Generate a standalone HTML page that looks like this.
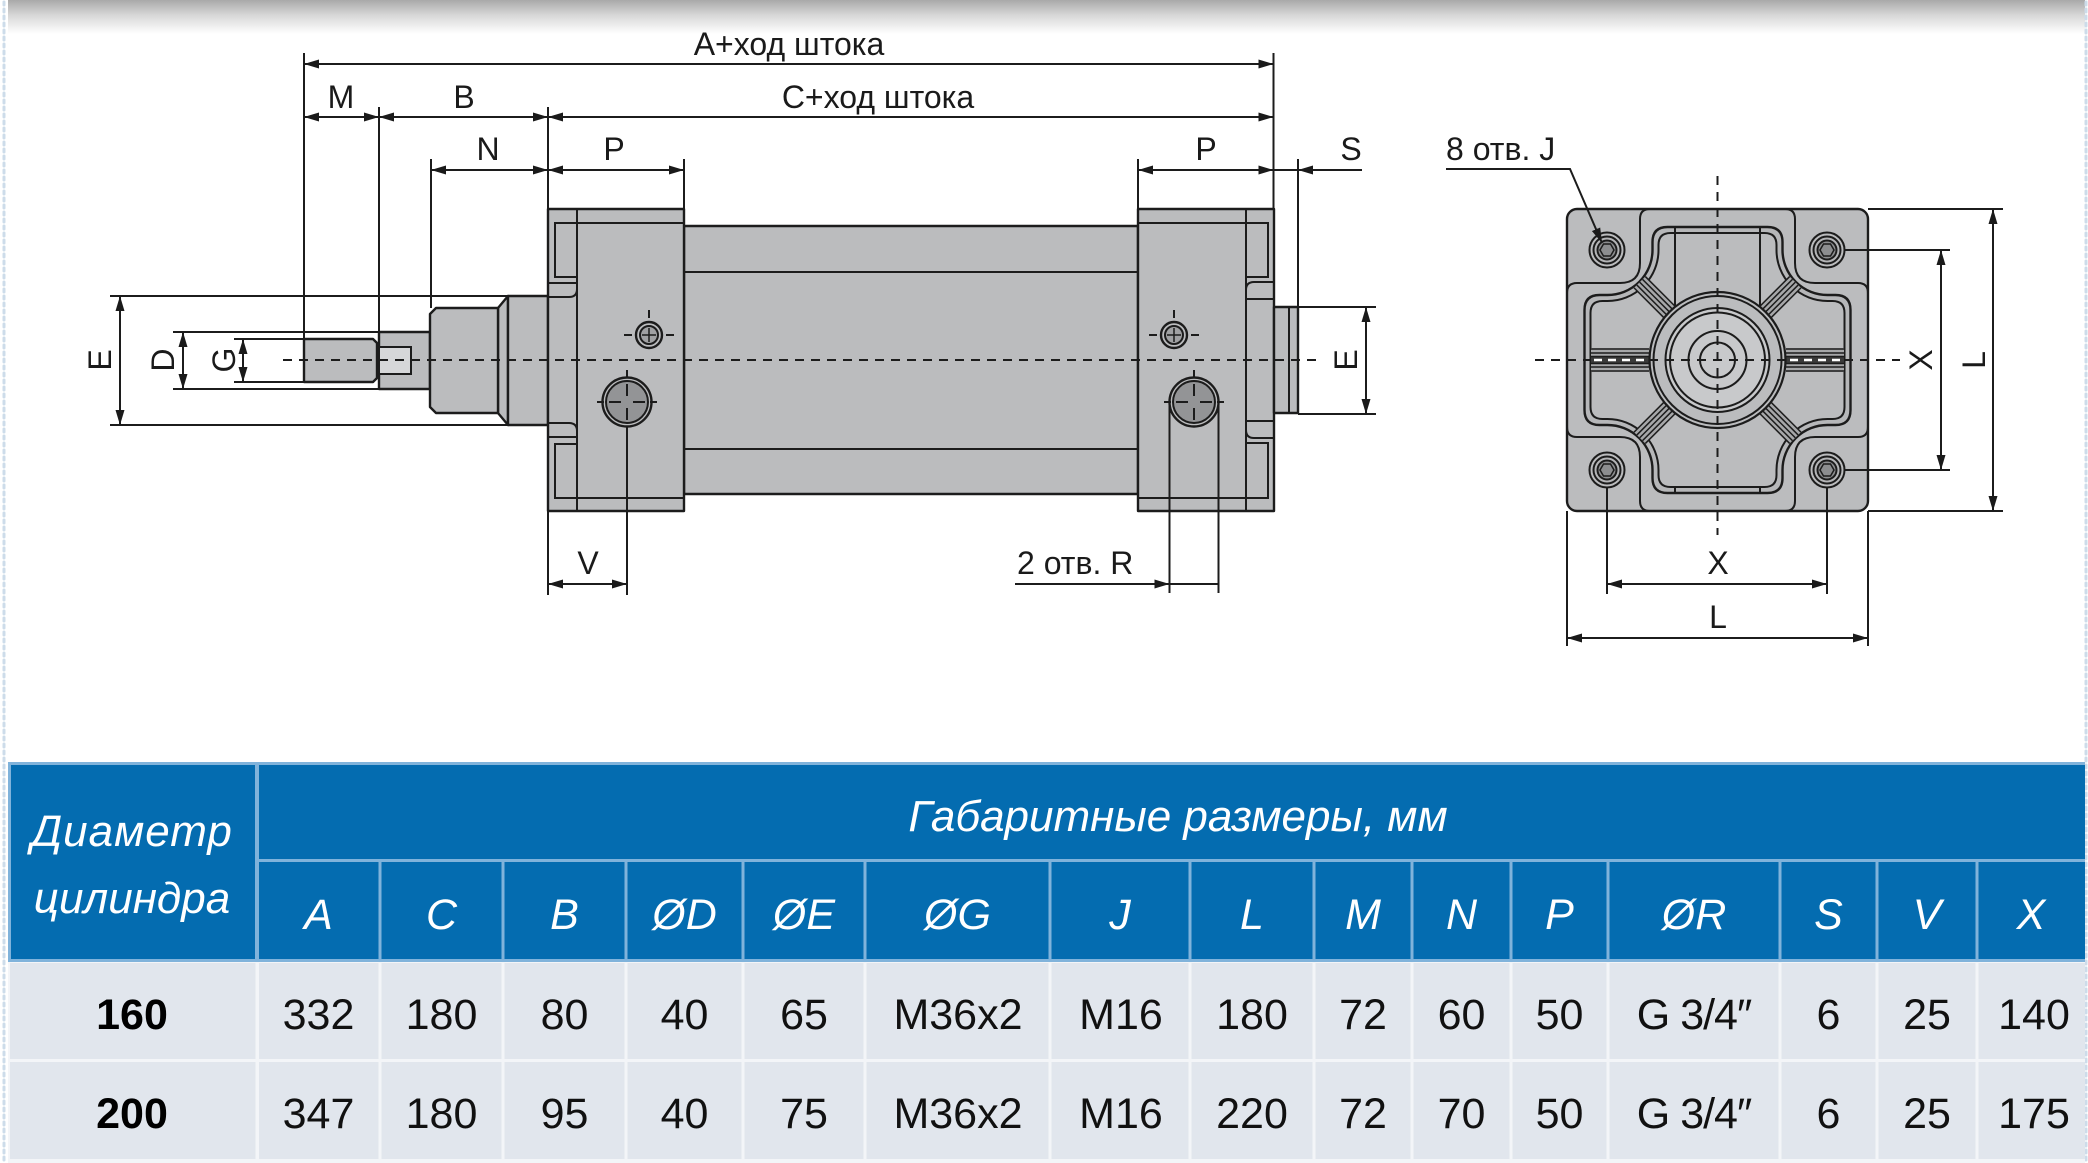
<!DOCTYPE html>
<html>
<head>
<meta charset="utf-8">
<style>
html,body{margin:0;padding:0;background:#fff;}
body{width:2088px;height:1163px;overflow:hidden;position:relative;}
svg{position:absolute;left:0;top:0;}
.o{fill:#bbbcbe;stroke:#1c1c1c;stroke-width:2.4;stroke-linejoin:round;}
.l{stroke:#1c1c1c;stroke-width:2;fill:none;}
.th{stroke:#1c1c1c;stroke-width:1.5;fill:none;}
.c{stroke:#1c1c1c;stroke-width:2;stroke-dasharray:9 7;fill:none;}
.t{font-family:"Liberation Sans","DejaVu Sans",sans-serif;font-size:32px;fill:#1a1a1a;}
.hd{font-family:"Liberation Sans","DejaVu Sans",sans-serif;font-size:44px;font-style:italic;fill:#ffffff;}
.hl{font-family:"Liberation Sans","DejaVu Sans",sans-serif;font-size:43px;font-style:italic;fill:#ffffff;}
.dv{font-family:"Liberation Sans","DejaVu Sans",sans-serif;font-size:43px;fill:#111;}
.db{font-family:"Liberation Sans","DejaVu Sans",sans-serif;font-size:43px;font-weight:bold;fill:#000;}
</style>
</head>
<body>
<svg width="2088" height="1163" viewBox="0 0 2088 1163" xmlns="http://www.w3.org/2000/svg">
<defs>
  <linearGradient id="tg" x1="0" y1="0" x2="0" y2="1">
    <stop offset="0" stop-color="#a9a9a9"/>
    <stop offset="0.45" stop-color="#d8d8d8"/>
    <stop offset="1" stop-color="#ffffff"/>
  </linearGradient>
  <marker id="ar" viewBox="0 0 15 9" refX="15" refY="4.5" markerWidth="15" markerHeight="9" markerUnits="userSpaceOnUse" orient="auto-start-reverse">
    <path d="M0,0L15,4.5L0,9z" fill="#1a1a1a"/>
  </marker>
  <g id="eh">
    <circle cx="0" cy="0" r="17.5" fill="#bbbcbe" stroke="#1c1c1c" stroke-width="2"/>
    <circle cx="0" cy="0" r="13.5" fill="#b3b4b6" stroke="#1c1c1c" stroke-width="2"/>
    <circle cx="0" cy="0" r="9.5" fill="#8c8d8f" stroke="#1c1c1c" stroke-width="2"/>
    <polygon points="7,0 3.5,6.06 -3.5,6.06 -7,0 -3.5,-6.06 3.5,-6.06" fill="none" stroke="#1c1c1c" stroke-width="1.5"/>
  </g>
  <g id="ch">
    <rect x="68" y="-8" width="42" height="16" fill="#a6a7a9"/>
    <line x1="68" y1="-8" x2="110" y2="-8" class="th"/>
    <line x1="68" y1="-4" x2="110" y2="-4" class="th"/>
    <line x1="68" y1="0" x2="110" y2="0" class="th"/>
    <line x1="68" y1="4" x2="110" y2="4" class="th"/>
    <line x1="68" y1="8" x2="110" y2="8" class="th"/>
  </g>
  <g id="sh">
    <circle cx="0" cy="0" r="13" class="o"/>
    <circle cx="0" cy="0" r="9" fill="#a0a1a3" stroke="#1c1c1c" stroke-width="2"/>
    <line x1="0" y1="-7" x2="0" y2="7" class="th"/>
    <line x1="-7" y1="0" x2="7" y2="0" class="th"/>
    <line x1="-25" y1="0" x2="-17" y2="0" class="l"/>
    <line x1="17" y1="0" x2="25" y2="0" class="l"/>
    <line x1="0" y1="-25" x2="0" y2="-17" class="l"/>
  </g>
  <g id="bh">
    <circle cx="0" cy="0" r="24.5" fill="#bbbcbe" stroke="#1c1c1c" stroke-width="2.4"/>
    <circle cx="0" cy="0" r="21" fill="#939496" stroke="#1c1c1c" stroke-width="2"/>
    <line x1="-18" y1="0" x2="-6" y2="0" class="l"/>
    <line x1="6" y1="0" x2="18" y2="0" class="l"/>
    <line x1="0" y1="-18" x2="0" y2="-6" class="l"/>
    <line x1="0" y1="6" x2="0" y2="18" class="l"/>
    <line x1="-30" y1="0" x2="-23" y2="0" class="l"/>
    <line x1="23" y1="0" x2="30" y2="0" class="l"/>
    <line x1="0" y1="-32" x2="0" y2="-25" class="l"/>
  </g>
</defs>

<!-- page decoration -->
<rect x="8" y="0" width="2077" height="34" fill="url(#tg)"/>
<line x1="4" y1="2" x2="4" y2="1163" stroke="#cddcea" stroke-width="3" stroke-dasharray="3 4" stroke-linecap="round"/>
<line x1="2086" y1="2" x2="2086" y2="1163" stroke="#cddcea" stroke-width="3" stroke-dasharray="3 4" stroke-linecap="round"/>

<!-- ================= SIDE VIEW ================= -->
<path d="M304,339 L373,339 L377,343 L377,378 L373,382 L304,382 Z" class="o"/>
<rect x="379" y="332" width="51" height="57" class="o"/>
<rect x="379" y="347" width="32" height="27" fill="#d6d7d9" stroke="#1c1c1c" stroke-width="2"/>
<path d="M498,308 L508,296 L508,425 L498,413 Z" class="o"/>
<rect x="508" y="296" width="40" height="129" class="o"/>
<path d="M430,314 L436,308 L498,308 L498,413 L436,413 L430,407 Z" class="o"/>

<rect x="684" y="226" width="454" height="268" class="o"/>
<line x1="684" y1="272" x2="1138" y2="272" class="l"/>
<line x1="684" y1="449" x2="1138" y2="449" class="l"/>

<rect x="548" y="209" width="136" height="302" class="o"/>
<line x1="577" y1="209" x2="577" y2="511" class="l"/>
<line x1="577" y1="223" x2="684" y2="223" class="l"/>
<line x1="577" y1="498" x2="684" y2="498" class="l"/>
<path d="M577,223 L555,223 L555,277 L577,277" class="l"/>
<path d="M577,444 L555,444 L555,498 L577,498" class="l"/>
<line x1="548" y1="283" x2="577" y2="283" class="l"/>
<path d="M548,297 L569,297 Q577,297 577,289" class="l"/>
<path d="M548,423 L569,423 Q577,423 577,431" class="l"/>
<line x1="548" y1="437" x2="577" y2="437" class="l"/>

<rect x="1138" y="209" width="136" height="302" class="o"/>
<line x1="1246" y1="209" x2="1246" y2="511" class="l"/>
<line x1="1138" y1="223" x2="1246" y2="223" class="l"/>
<line x1="1138" y1="498" x2="1246" y2="498" class="l"/>
<path d="M1246,223 L1268,223 L1268,277 L1246,277" class="l"/>
<path d="M1246,443 L1268,443 L1268,498 L1246,498" class="l"/>
<path d="M1274,282 L1254,282 Q1246,282 1246,290" class="l"/>
<line x1="1246" y1="299" x2="1274" y2="299" class="l"/>
<line x1="1246" y1="421" x2="1274" y2="421" class="l"/>
<path d="M1274,438 L1254,438 Q1246,438 1246,430" class="l"/>

<rect x="1274" y="307" width="24" height="106" class="o"/>
<line x1="1289" y1="307" x2="1289" y2="413" class="l"/>

<use href="#sh" x="649" y="335"/>
<use href="#bh" x="627" y="402"/>
<use href="#sh" x="1174" y="335"/>
<use href="#bh" x="1194" y="402"/>

<line x1="283" y1="360" x2="1322" y2="360" class="c"/>

<line x1="304" y1="53" x2="304" y2="339" class="l"/>
<line x1="379" y1="107" x2="379" y2="332" class="l"/>
<line x1="431" y1="159" x2="431" y2="308" class="l"/>
<line x1="548" y1="107" x2="548" y2="209" class="l"/>
<line x1="684" y1="159" x2="684" y2="209" class="l"/>
<line x1="1138" y1="159" x2="1138" y2="209" class="l"/>
<line x1="1273.5" y1="53" x2="1273.5" y2="209" class="l"/>
<line x1="1298" y1="159" x2="1298" y2="307" class="l"/>
<line x1="110" y1="296" x2="508" y2="296" class="l"/>
<line x1="110" y1="425" x2="508" y2="425" class="l"/>
<line x1="173" y1="332" x2="379" y2="332" class="l"/>
<line x1="173" y1="389" x2="379" y2="389" class="l"/>
<line x1="234" y1="339" x2="304" y2="339" class="l"/>
<line x1="234" y1="382" x2="304" y2="382" class="l"/>
<line x1="1298" y1="307" x2="1376" y2="307" class="l"/>
<line x1="1298" y1="414" x2="1376" y2="414" class="l"/>
<line x1="548" y1="511" x2="548" y2="595" class="l"/>
<line x1="627" y1="427" x2="627" y2="595" class="l"/>
<line x1="1169.5" y1="402" x2="1169.5" y2="593" class="l"/>
<line x1="1218.5" y1="402" x2="1218.5" y2="593" class="l"/>

<line x1="304" y1="64" x2="1273.5" y2="64" class="l" marker-start="url(#ar)" marker-end="url(#ar)"/>
<line x1="304" y1="117" x2="379" y2="117" class="l" marker-start="url(#ar)" marker-end="url(#ar)"/>
<line x1="379" y1="117" x2="548" y2="117" class="l" marker-start="url(#ar)" marker-end="url(#ar)"/>
<line x1="548" y1="117" x2="1273.5" y2="117" class="l" marker-start="url(#ar)" marker-end="url(#ar)"/>
<line x1="431" y1="170" x2="548" y2="170" class="l" marker-start="url(#ar)" marker-end="url(#ar)"/>
<line x1="548" y1="170" x2="684" y2="170" class="l" marker-start="url(#ar)" marker-end="url(#ar)"/>
<line x1="1138" y1="170" x2="1273.5" y2="170" class="l" marker-start="url(#ar)" marker-end="url(#ar)"/>
<line x1="1273.5" y1="170" x2="1298" y2="170" class="l"/>
<line x1="1362" y1="170" x2="1298" y2="170" class="l" marker-end="url(#ar)"/>
<line x1="120" y1="296" x2="120" y2="425" class="l" marker-start="url(#ar)" marker-end="url(#ar)"/>
<line x1="183" y1="332" x2="183" y2="389" class="l" marker-start="url(#ar)" marker-end="url(#ar)"/>
<line x1="243" y1="339" x2="243" y2="382" class="l" marker-start="url(#ar)" marker-end="url(#ar)"/>
<line x1="1366" y1="307" x2="1366" y2="414" class="l" marker-start="url(#ar)" marker-end="url(#ar)"/>
<line x1="548" y1="584" x2="627" y2="584" class="l" marker-start="url(#ar)" marker-end="url(#ar)"/>
<line x1="1015" y1="584" x2="1169.5" y2="584" class="l" marker-end="url(#ar)"/>
<line x1="1169.5" y1="584" x2="1218.5" y2="584" class="l"/>

<text x="789" y="55" class="t" text-anchor="middle">A+ход штока</text>
<text x="341" y="108" class="t" text-anchor="middle">M</text>
<text x="464" y="108" class="t" text-anchor="middle">B</text>
<text x="878" y="108" class="t" text-anchor="middle">C+ход штока</text>
<text x="488" y="160" class="t" text-anchor="middle">N</text>
<text x="614" y="160" class="t" text-anchor="middle">P</text>
<text x="1206" y="160" class="t" text-anchor="middle">P</text>
<text x="1351" y="160" class="t" text-anchor="middle">S</text>
<text x="588" y="574" class="t" text-anchor="middle">V</text>
<text x="1017" y="574" class="t">2 отв. R</text>
<text x="111" y="360" class="t" text-anchor="middle" transform="rotate(-90 111 360)">E</text>
<text x="174" y="360" class="t" text-anchor="middle" transform="rotate(-90 174 360)">D</text>
<text x="235" y="360" class="t" text-anchor="middle" transform="rotate(-90 235 360)">G</text>
<text x="1357" y="360" class="t" text-anchor="middle" transform="rotate(-90 1357 360)">E</text>

<!-- ================= END VIEW ================= -->
<rect x="1567" y="209" width="301" height="302" rx="10" ry="10" class="o"/>
<path d="M1650,209 Q1640,209 1640,219 L1640,263 Q1640,283 1620,283 L1577,283 Q1567,283 1567,293" class="l"/>
<path d="M1785,209 Q1795,209 1795,219 L1795,263 Q1795,283 1815,283 L1858,283 Q1868,283 1868,293" class="l"/>
<path d="M1650,511 Q1640,511 1640,501 L1640,457 Q1640,437 1620,437 L1577,437 Q1567,437 1567,427" class="l"/>
<path d="M1785,511 Q1795,511 1795,501 L1795,457 Q1795,437 1815,437 L1858,437 Q1868,437 1868,427" class="l"/>
<path d="M1667.5,227 L1767.5,227 Q1782.5,227 1782.5,242 L1782.5,250 A45,45 0 0 0 1827.5,295 L1835.5,295 Q1850.5,295 1850.5,310 L1850.5,410 Q1850.5,425 1835.5,425 L1827.5,425 A45,45 0 0 0 1782.5,470 L1782.5,478 Q1782.5,493 1767.5,493 L1667.5,493 Q1652.5,493 1652.5,478 L1652.5,470 A45,45 0 0 0 1607.5,425 L1599.5,425 Q1584.5,425 1584.5,410 L1584.5,310 Q1584.5,295 1599.5,295 L1607.5,295 A45,45 0 0 0 1652.5,250 L1652.5,242 Q1652.5,227 1667.5,227 Z" fill="#b6b7b9" stroke="#1c1c1c" stroke-width="2.4"/>
<path d="M1670.5,233 L1764.5,233 Q1776.5,233 1776.5,245 L1776.5,250 A51,51 0 0 0 1827.5,301 L1832.5,301 Q1844.5,301 1844.5,313 L1844.5,407 Q1844.5,419 1832.5,419 L1827.5,419 A51,51 0 0 0 1776.5,470 L1776.5,475 Q1776.5,487 1764.5,487 L1670.5,487 Q1658.5,487 1658.5,475 L1658.5,470 A51,51 0 0 0 1607.5,419 L1602.5,419 Q1590.5,419 1590.5,407 L1590.5,313 Q1590.5,301 1602.5,301 L1607.5,301 A51,51 0 0 0 1658.5,250 L1658.5,245 Q1658.5,233 1670.5,233 Z" fill="#bbbcbe" stroke="#1c1c1c" stroke-width="2"/>
<line x1="1675" y1="227" x2="1675" y2="307" class="l"/>
<line x1="1760" y1="227" x2="1760" y2="307" class="l"/>
<line x1="1675" y1="487" x2="1675" y2="493" class="l"/>
<line x1="1760" y1="487" x2="1760" y2="493" class="l"/>
<use href="#ch" transform="translate(1717.5,360) rotate(45)"/>
<use href="#ch" transform="translate(1717.5,360) rotate(135)"/>
<use href="#ch" transform="translate(1717.5,360) rotate(225)"/>
<use href="#ch" transform="translate(1717.5,360) rotate(315)"/>
<g>
  <rect x="1591" y="348" width="58" height="24" fill="#a6a7a9"/>
  <rect x="1591" y="356.5" width="58" height="7" fill="#3a3a3a"/>
  <line x1="1591" y1="349" x2="1649" y2="349" class="th"/>
  <line x1="1591" y1="353" x2="1649" y2="353" class="th"/>
  <line x1="1591" y1="356.5" x2="1649" y2="356.5" class="th"/>
  <line x1="1591" y1="363.5" x2="1649" y2="363.5" class="th"/>
  <line x1="1591" y1="367" x2="1649" y2="367" class="th"/>
  <line x1="1591" y1="371" x2="1649" y2="371" class="th"/>
  <line x1="1594" y1="360" x2="1649" y2="360" stroke="#ffffff" stroke-width="2.5" stroke-dasharray="8 6"/>
  <rect x="1786" y="348" width="58" height="24" fill="#a6a7a9"/>
  <rect x="1786" y="356.5" width="58" height="7" fill="#3a3a3a"/>
  <line x1="1786" y1="349" x2="1844" y2="349" class="th"/>
  <line x1="1786" y1="353" x2="1844" y2="353" class="th"/>
  <line x1="1786" y1="356.5" x2="1844" y2="356.5" class="th"/>
  <line x1="1786" y1="363.5" x2="1844" y2="363.5" class="th"/>
  <line x1="1786" y1="367" x2="1844" y2="367" class="th"/>
  <line x1="1786" y1="371" x2="1844" y2="371" class="th"/>
  <line x1="1790" y1="360" x2="1844" y2="360" stroke="#ffffff" stroke-width="2.5" stroke-dasharray="8 6"/>
</g>
<circle cx="1717.5" cy="360" r="68" fill="#bbbcbe" stroke="#1c1c1c" stroke-width="2.2"/>
<circle cx="1717.5" cy="360" r="64" fill="#bbbcbe" stroke="#1c1c1c" stroke-width="2"/>
<circle cx="1717.5" cy="360" r="52" fill="#c8c9cb" stroke="#1c1c1c" stroke-width="2"/>
<circle cx="1717.5" cy="360" r="47.5" fill="none" stroke="#1c1c1c" stroke-width="2"/>
<circle cx="1717.5" cy="360" r="29" fill="none" stroke="#1c1c1c" stroke-width="2"/>
<circle cx="1717.5" cy="360" r="17.5" fill="none" stroke="#1c1c1c" stroke-width="2"/>
<use href="#eh" x="1607" y="250"/>
<use href="#eh" x="1827" y="250"/>
<use href="#eh" x="1607" y="470"/>
<use href="#eh" x="1827" y="470"/>
<line x1="1535" y1="360" x2="1591" y2="360" class="c"/>
<line x1="1649" y1="360" x2="1786" y2="360" class="c"/>
<line x1="1844" y1="360" x2="1900" y2="360" class="c"/>
<line x1="1717.5" y1="176" x2="1717.5" y2="535" class="c"/>
<line x1="1845" y1="250" x2="1950" y2="250" class="l"/>
<line x1="1845" y1="470" x2="1950" y2="470" class="l"/>
<line x1="1868" y1="209" x2="2003" y2="209" class="l"/>
<line x1="1868" y1="511" x2="2003" y2="511" class="l"/>
<line x1="1607" y1="488" x2="1607" y2="594" class="l"/>
<line x1="1827" y1="488" x2="1827" y2="594" class="l"/>
<line x1="1567" y1="511" x2="1567" y2="646" class="l"/>
<line x1="1868" y1="511" x2="1868" y2="646" class="l"/>
<line x1="1941" y1="250" x2="1941" y2="470" class="l" marker-start="url(#ar)" marker-end="url(#ar)"/>
<line x1="1993" y1="209" x2="1993" y2="511" class="l" marker-start="url(#ar)" marker-end="url(#ar)"/>
<line x1="1607" y1="584" x2="1827" y2="584" class="l" marker-start="url(#ar)" marker-end="url(#ar)"/>
<line x1="1567" y1="638" x2="1868" y2="638" class="l" marker-start="url(#ar)" marker-end="url(#ar)"/>
<polyline points="1446,169 1570,169 1602,243" class="l" marker-end="url(#ar)"/>
<text x="1446" y="160" class="t">8 отв. J</text>
<text x="1718" y="574" class="t" text-anchor="middle">X</text>
<text x="1718" y="628" class="t" text-anchor="middle">L</text>
<text x="1932" y="360" class="t" text-anchor="middle" transform="rotate(-90 1932 360)">X</text>
<text x="1985" y="360" class="t" text-anchor="middle" transform="rotate(-90 1985 360)">L</text>

<!-- ================= TABLE ================= -->
<rect x="8" y="762" width="2077" height="200" fill="#80b3db"/>
<rect x="11" y="765" width="244" height="194" fill="#046cb0"/>
<rect x="259" y="765" width="1826" height="94" fill="#046cb0"/>
<g fill="#046cb0">
  <rect x="259" y="862" width="119.5" height="97"/>
  <rect x="381.5" y="862" width="120" height="97"/>
  <rect x="504.5" y="862" width="120" height="97"/>
  <rect x="627.5" y="862" width="114" height="97"/>
  <rect x="744.5" y="862" width="119" height="97"/>
  <rect x="866.5" y="862" width="182" height="97"/>
  <rect x="1051.5" y="862" width="137" height="97"/>
  <rect x="1191.5" y="862" width="121" height="97"/>
  <rect x="1315.5" y="862" width="95" height="97"/>
  <rect x="1413.5" y="862" width="96" height="97"/>
  <rect x="1512.5" y="862" width="94" height="97"/>
  <rect x="1609.5" y="862" width="169" height="97"/>
  <rect x="1781.5" y="862" width="94" height="97"/>
  <rect x="1878.5" y="862" width="97" height="97"/>
  <rect x="1978.5" y="862" width="106.5" height="97"/>
</g>
<rect x="8" y="962" width="2077" height="201" fill="#f3f5f8"/>
<g fill="#e1e6ed">
  <rect x="10" y="963" width="245.5" height="96"/>
  <rect x="259" y="963" width="119.5" height="96"/>
  <rect x="381.5" y="963" width="120" height="96"/>
  <rect x="504.5" y="963" width="120" height="96"/>
  <rect x="627.5" y="963" width="114" height="96"/>
  <rect x="744.5" y="963" width="119" height="96"/>
  <rect x="866.5" y="963" width="182" height="96"/>
  <rect x="1051.5" y="963" width="137" height="96"/>
  <rect x="1191.5" y="963" width="121" height="96"/>
  <rect x="1315.5" y="963" width="95" height="96"/>
  <rect x="1413.5" y="963" width="96" height="96"/>
  <rect x="1512.5" y="963" width="94" height="96"/>
  <rect x="1609.5" y="963" width="169" height="96"/>
  <rect x="1781.5" y="963" width="94" height="96"/>
  <rect x="1878.5" y="963" width="97" height="96"/>
  <rect x="1978.5" y="963" width="106.5" height="96"/>

  <rect x="10" y="1062" width="245.5" height="97"/>
  <rect x="259" y="1062" width="119.5" height="97"/>
  <rect x="381.5" y="1062" width="120" height="97"/>
  <rect x="504.5" y="1062" width="120" height="97"/>
  <rect x="627.5" y="1062" width="114" height="97"/>
  <rect x="744.5" y="1062" width="119" height="97"/>
  <rect x="866.5" y="1062" width="182" height="97"/>
  <rect x="1051.5" y="1062" width="137" height="97"/>
  <rect x="1191.5" y="1062" width="121" height="97"/>
  <rect x="1315.5" y="1062" width="95" height="97"/>
  <rect x="1413.5" y="1062" width="96" height="97"/>
  <rect x="1512.5" y="1062" width="94" height="97"/>
  <rect x="1609.5" y="1062" width="169" height="97"/>
  <rect x="1781.5" y="1062" width="94" height="97"/>
  <rect x="1878.5" y="1062" width="97" height="97"/>
  <rect x="1978.5" y="1062" width="106.5" height="97"/>
</g>

<text x="132" y="846" class="hd" text-anchor="middle" letter-spacing="1">Диаметр</text>
<text x="132" y="913" class="hd" text-anchor="middle">цилиндра</text>
<text x="1178" y="831" class="hd" text-anchor="middle">Габаритные размеры, мм</text>
<g class="hl" text-anchor="middle">
  <text x="318.5" y="929">A</text>
  <text x="441.5" y="929">C</text>
  <text x="564.5" y="929">B</text>
  <text x="684.5" y="929">ØD</text>
  <text x="804" y="929">ØE</text>
  <text x="957.5" y="929">ØG</text>
  <text x="1120" y="929">J</text>
  <text x="1252" y="929">L</text>
  <text x="1363" y="929">M</text>
  <text x="1461.5" y="929">N</text>
  <text x="1559.5" y="929">P</text>
  <text x="1694" y="929">ØR</text>
  <text x="1828.5" y="929">S</text>
  <text x="1927" y="929">V</text>
  <text x="2031" y="929">X</text>
</g>

<text x="132" y="1029" class="db" text-anchor="middle">160</text>
<g class="dv" text-anchor="middle">
  <text x="318.5" y="1029">332</text>
  <text x="441.5" y="1029">180</text>
  <text x="564.5" y="1029">80</text>
  <text x="684.5" y="1029">40</text>
  <text x="804" y="1029">65</text>
  <text x="958" y="1029">M36x2</text>
  <text x="1121" y="1029">M16</text>
  <text x="1252" y="1029">180</text>
  <text x="1363" y="1029">72</text>
  <text x="1461.5" y="1029">60</text>
  <text x="1559.5" y="1029">50</text>
  <text x="1694" y="1029" letter-spacing="-1">G 3/4″</text>
  <text x="1828.5" y="1029">6</text>
  <text x="1927" y="1029">25</text>
  <text x="2034" y="1029">140</text>
</g>
<text x="132" y="1128" class="db" text-anchor="middle">200</text>
<g class="dv" text-anchor="middle">
  <text x="318.5" y="1128">347</text>
  <text x="441.5" y="1128">180</text>
  <text x="564.5" y="1128">95</text>
  <text x="684.5" y="1128">40</text>
  <text x="804" y="1128">75</text>
  <text x="958" y="1128">M36x2</text>
  <text x="1121" y="1128">M16</text>
  <text x="1252" y="1128">220</text>
  <text x="1363" y="1128">72</text>
  <text x="1461.5" y="1128">70</text>
  <text x="1559.5" y="1128">50</text>
  <text x="1694" y="1128" letter-spacing="-1">G 3/4″</text>
  <text x="1828.5" y="1128">6</text>
  <text x="1927" y="1128">25</text>
  <text x="2034" y="1128">175</text>
</g>
</svg>
</body>
</html>
